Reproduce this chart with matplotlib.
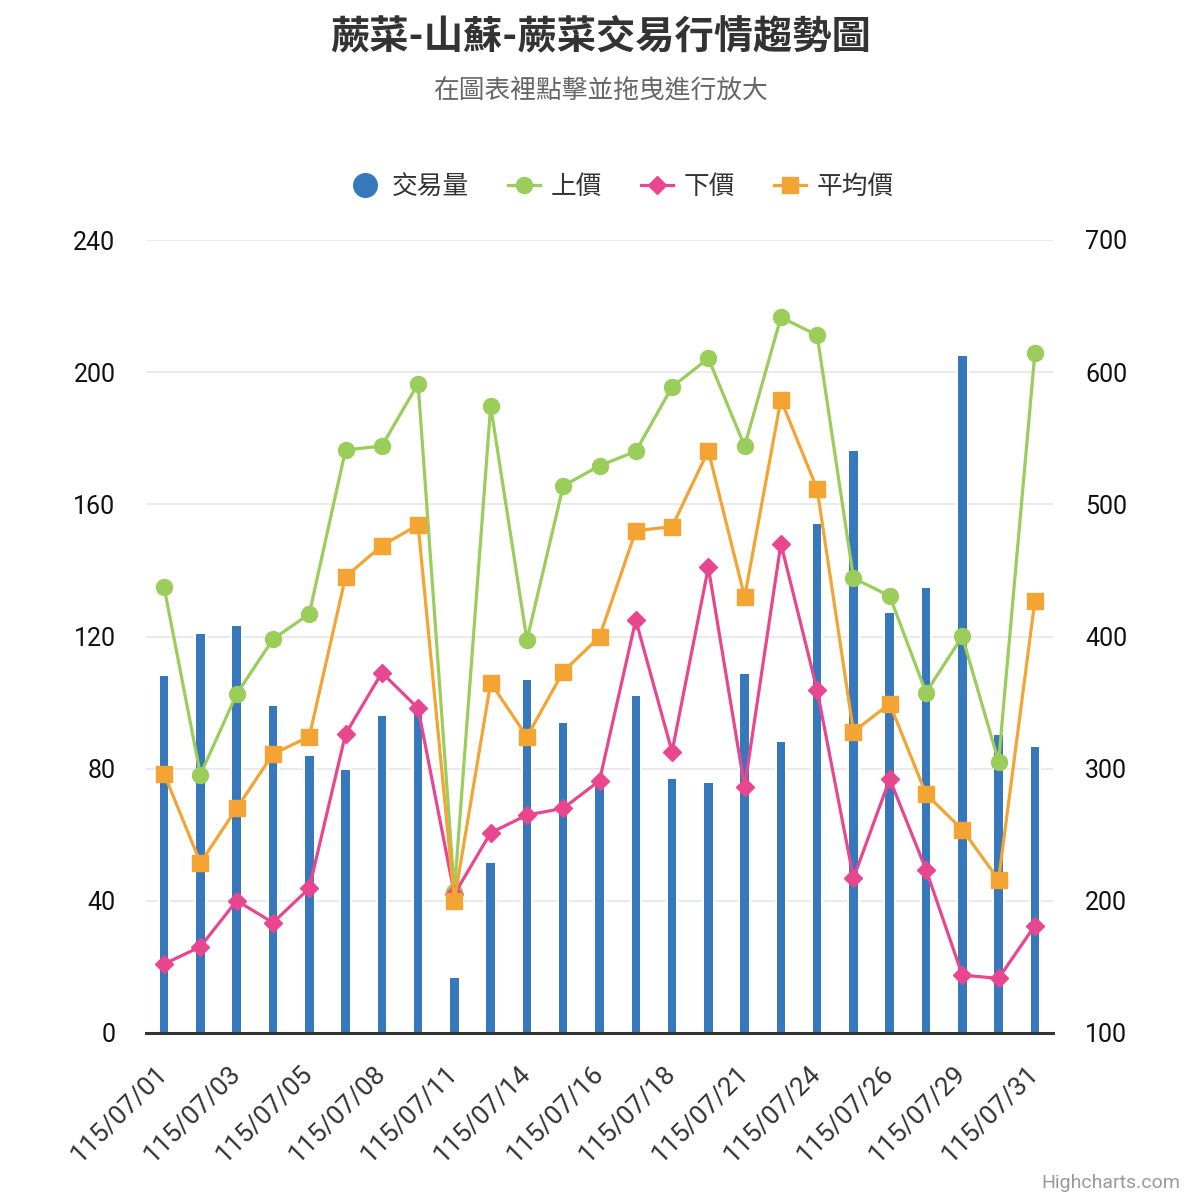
import matplotlib
matplotlib.use("Agg")
import matplotlib.pyplot as plt
from matplotlib.lines import Line2D
import numpy as np

plt.rcParams['font.family'] = ['Roboto', 'Noto Sans CJK TC', 'DejaVu Sans']

# ---- data ----
dates = ["115/07/01", "115/07/02", "115/07/03", "115/07/04", "115/07/05",
         "115/07/07", "115/07/08", "115/07/09", "115/07/11", "115/07/12",
         "115/07/14", "115/07/15", "115/07/16", "115/07/17", "115/07/18",
         "115/07/19", "115/07/21", "115/07/22", "115/07/24", "115/07/25",
         "115/07/26", "115/07/28", "115/07/29", "115/07/30", "115/07/31"]
volume = [108.4, 121.1, 123.5, 99.3, 84.1, 80.0, 96.2, 97.5, 16.9, 51.8,
          107.0, 94.2, 77.0, 102.3, 77.3, 76.1, 108.9, 88.3, 154.4, 176.3,
          127.4, 135.0, 205.3, 90.5, 86.9]
high_price = [437.2, 295.5, 356.5, 398.0, 417.0, 541.1, 544.1, 591.3, 207.0, 574.4,
              397.3, 513.9, 529.2, 540.1, 588.8, 610.5, 544.0, 641.5, 628.0, 444.2,
              430.6, 357.6, 400.1, 305.4, 614.3]
low_price = [152.2, 165.3, 200.1, 183.5, 209.5, 326.2, 372.6, 345.7, 205.0, 251.5,
             264.9, 270.0, 290.9, 412.5, 312.8, 452.3, 286.0, 470.3, 359.4, 217.1,
             292.2, 223.6, 143.8, 141.3, 181.3]
avg_price = [296.0, 228.8, 270.0, 311.1, 324.2, 445.2, 468.7, 484.4, 200.1, 365.0,
             324.2, 373.4, 399.8, 480.0, 483.1, 540.6, 429.8, 579.3, 511.4, 328.0,
             349.1, 280.8, 253.9, 216.0, 427.0]
left_ticks = [0, 40, 80, 120, 160, 200, 240]
right_ticks = [100, 200, 300, 400, 500, 600, 700]
series_names = ["交易量", "上價", "下價", "平均價"]

title = "蕨菜-山蘇-蕨菜交易行情趨勢圖"
subtitle = "在圖表裡點擊並拖曳進行放大"

# ---- styles ----
c_blue = "#3778bd"
c_green = "#9acd5a"
c_pink = "#e8478f"
c_orange = "#f4a433"

fig = plt.figure(figsize=(12, 12), dpi=100)
ax = fig.add_axes([146/1200, 1 - 1033/1200, (1053-146)/1200, (1033-240)/1200])
ax2 = ax.twinx()

x = np.arange(len(dates))
ax.bar(x, volume, width=0.29, color=c_blue, edgecolor="white", linewidth=1.44, zorder=2)
ax.set_xlim(-0.5, len(dates) - 0.5)
ax.set_ylim(left_ticks[0], left_ticks[-1])
ax.set_yticks(left_ticks)
ax.grid(axis='y', color="#e6e6e6", linewidth=1.2, zorder=0)
ax.set_axisbelow(True)

lw = 2.3
ax2.plot(x, high_price, color=c_green, lw=lw, marker='o', ms=11.5, zorder=3)
ax2.plot(x, low_price, color=c_pink, lw=lw, marker='D', ms=9.5, zorder=4)
ax2.plot(x, avg_price, color=c_orange, lw=lw, marker='s', ms=11.5, zorder=5)
ax2.set_ylim(right_ticks[0], right_ticks[-1])
ax2.set_yticks(right_ticks)

for a in (ax, ax2):
    for s in ("top", "left", "right", "bottom"):
        a.spines[s].set_visible(False)
ax.spines["bottom"].set_visible(True)
ax.spines["bottom"].set_color("#333333")
ax.spines["bottom"].set_linewidth(2.2)
ax.spines["bottom"].set_zorder(6)

ax.tick_params(axis='y', length=0, pad=22, labelsize=18, labelcolor="#111111")
ax2.tick_params(axis='y', length=0, pad=23, labelsize=18, labelcolor="#111111")

shown = x[::2]
ax.set_xticks(shown)
ax.set_xticklabels([dates[i] for i in shown])
ax.tick_params(axis='x', length=0, pad=26, labelsize=19, labelcolor="#333333")
for lab in ax.get_xticklabels():
    lab.set_rotation(45)
    lab.set_ha('right')
    lab.set_va('center')
    lab.set_rotation_mode('anchor')

fig.text(0.5, 1 - 37/1200, title, ha='center', va='center', fontsize=28.3,
         fontweight='bold', color="#333333")
fig.text(0.5, 1 - 90/1200, subtitle, ha='center', va='center', fontsize=18.5,
         color="#666666")
fig.text(1180/1200, 1 - 1183/1200, "Highcharts.com", ha='right', va='center',
         fontsize=14, color="#999999")

handles = [
    Line2D([], [], color=c_blue, marker='o', linestyle='none', ms=17),
    Line2D([], [], color=c_green, lw=lw, marker='o', ms=11.5),
    Line2D([], [], color=c_pink, lw=lw, marker='D', ms=9.5),
    Line2D([], [], color=c_orange, lw=lw, marker='s', ms=11.5),
]
leg = fig.legend(handles, series_names, loc='center', bbox_to_anchor=(0.518, 1 - 187/1200),
                 ncol=4, frameon=False, fontsize=18.5, handlelength=1.25,
                 columnspacing=1.5, handletextpad=0.42)
for t in leg.get_texts():
    t.set_color("#333333")

fig.savefig("out.png", dpi=100, facecolor="white")
